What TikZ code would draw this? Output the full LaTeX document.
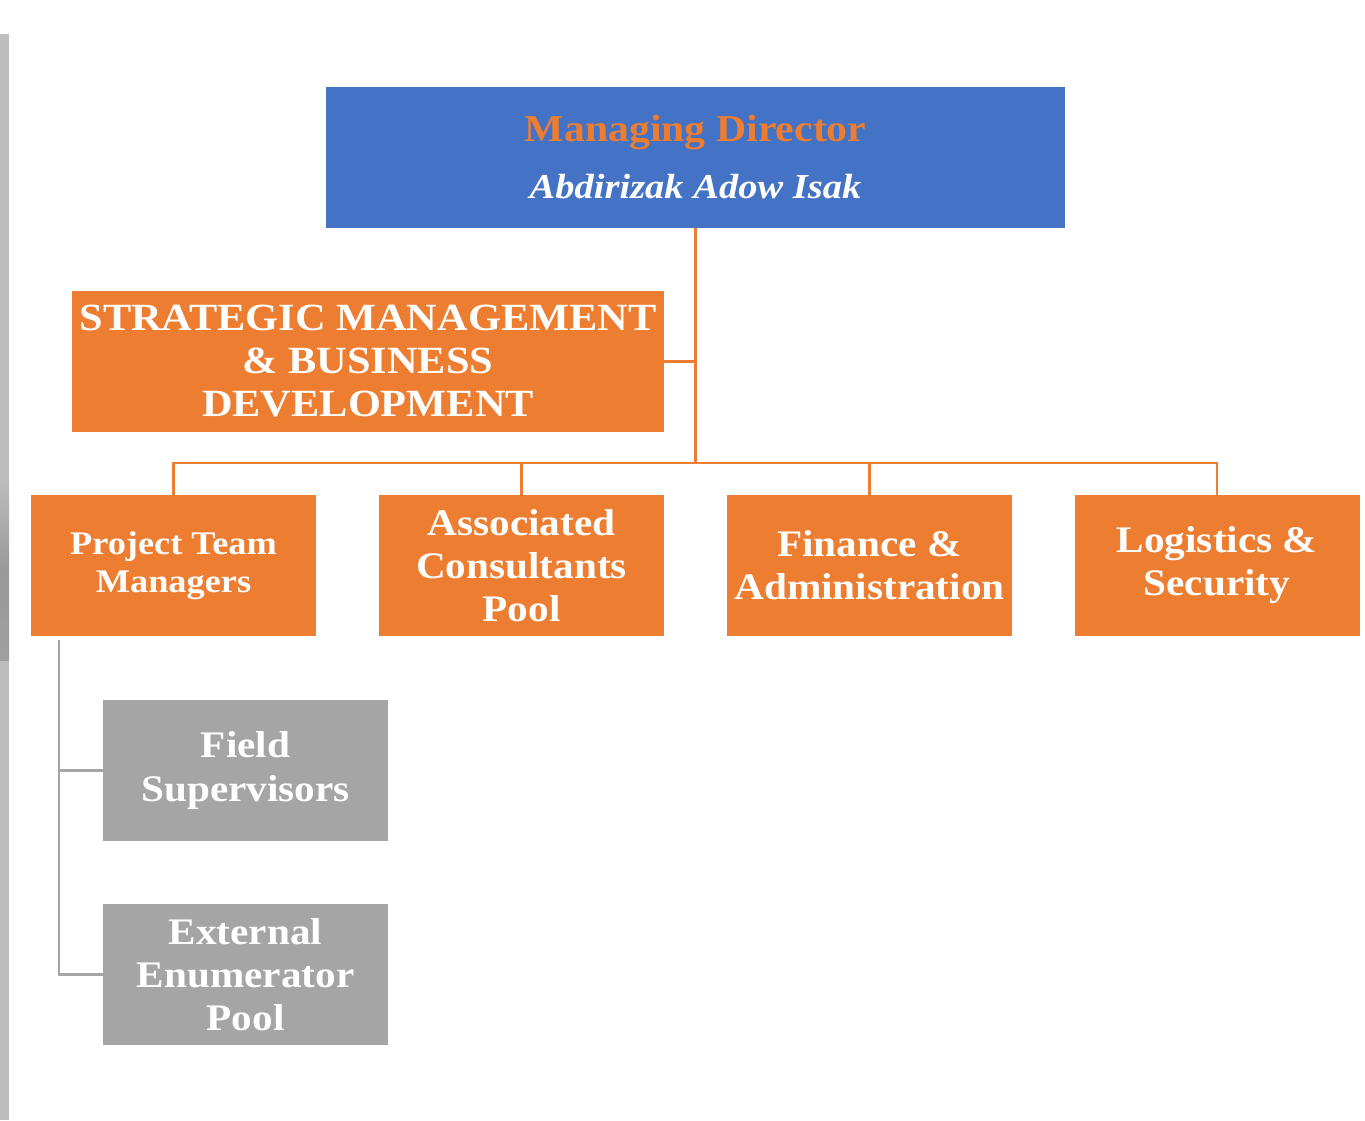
\documentclass[tikz,border=0pt]{standalone}
\usepackage{fontspec}
\setmainfont{Liberation Serif}[FakeStretch=1.1]
\definecolor{mdblue}{HTML}{4472C4}
\definecolor{org}{HTML}{ED7D31}
\definecolor{gry}{HTML}{A5A5A5}
\definecolor{strip}{HTML}{BDBDBD}
\begin{document}
\begin{tikzpicture}[x=1pt,y=-1pt,
  box/.style={rectangle, inner sep=0pt, minimum width=285pt, minimum height=141pt, align=center, text=white, font=\bfseries\fontsize{37.5}{43}\selectfont},
  obox/.style={box, fill=org},
  gbox/.style={box, fill=gry, font=\bfseries\fontsize{37.5}{44}\selectfont},
  oline/.style={draw=org, line width=2.6pt},
  gline/.style={draw=gry, line width=2.2pt}]
\useasboundingbox (0,0) rectangle (1365,1120);
\fill[white] (0,0) rectangle (1365,1120);
% screenshot edge strip
\fill[strip] (0,34) rectangle (9,1120);
\shade[top color=strip, bottom color=gray!75, middle color=gray!80] (0,480) rectangle (9,660);
% top box
\node[box, fill=mdblue, minimum width=739pt, minimum height=141pt, font=\bfseries\fontsize{38}{57}\selectfont] (md) at (695.5,157.5)
  {\textcolor{org}{Managing Director}\\{\itshape\fontsize{35}{57}\selectfont Abdirizak Adow Isak}};
% strategic
\node[obox, minimum width=592pt, font=\bfseries\fontsize{38.5}{43}\selectfont] (sm) at (368,361.5)
  {STRATEGIC MANAGEMENT\\ \& BUSINESS\\ DEVELOPMENT};
% level 2
\node[obox, font=\bfseries\fontsize{33}{38}\selectfont] (pt) at (173.5,565.5) {Project Team\\Managers};
\node[obox] (ac) at (521.5,565.5) {Associated\\Consultants\\Pool};
\node[obox] (fa) at (869.5,565.5) {Finance \&\\Administration};
\node[obox] (ls) at (1217,565.5) {Logistics \&\\Security};
% gray
\node[gbox] (fs) at (245.5,770.5) {Field\\Supervisors};
\node[gbox, font=\bfseries\fontsize{37.5}{43}\selectfont] (ee) at (245.5,974.5) {External\\Enumerator\\Pool};
% connectors
\coordinate (bus) at (695.5,463);
\draw[oline] (md.south) -- (bus);
\draw[oline] (sm.east) -- (sm.east -| md.south);
\draw[oline] (pt.north) |- (bus);
\draw[oline] (ls.north) |- (bus);
\draw[oline] (ac.north) -- (ac.north |- bus);
\draw[oline] (fa.north) -- (fa.north |- bus);
\coordinate (g0) at (59,640);
\draw[gline] (g0) |- (fs.west);
\draw[gline] (g0) |- (ee.west);
\end{tikzpicture}
\end{document}
